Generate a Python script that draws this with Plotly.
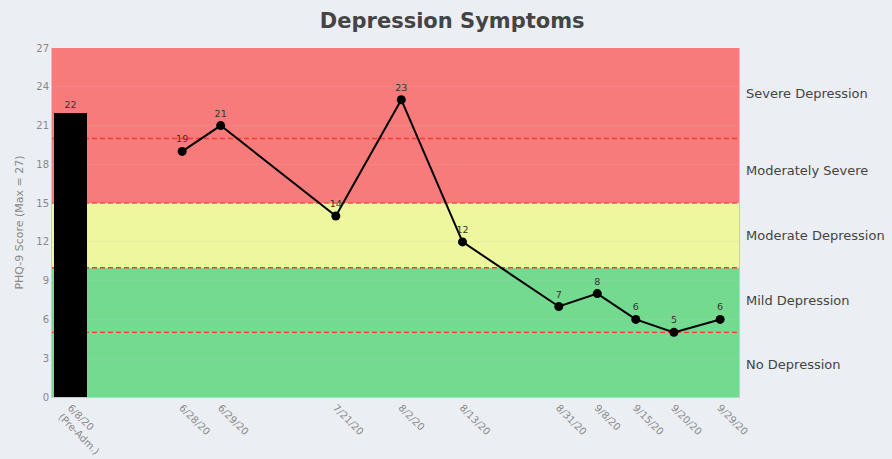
import plotly.graph_objects as go

# PHQ-9 scores: baseline (pre-admission) bar plus follow-up visits
baseline_label = "6/8/20<br>(Pre-Adm.)"
baseline_score = 22
baseline_pos = 0.48

visit_labels = ["6/28/20", "6/29/20", "7/21/20", "8/2/20", "8/13/20",
                "8/31/20", "9/8/20", "9/15/20", "9/20/20", "9/29/20"]
visit_scores = [19, 21, 14, 23, 12, 7, 8, 6, 5, 6]
visit_pos = [3.38, 4.38, 7.37, 9.07, 10.66, 13.16, 14.16, 15.16, 16.15, 17.35]

# severity bands (low, high, colour) and their labels
band_edges = [(0, 10, "rgb(115,218,143)"), (10, 15, "rgb(238,246,158)"),
              (15, 27, "rgb(247,123,123)")]
cutoffs = [5, 10, 15, 20]
severity_names = ["No Depression", "Mild Depression", "Moderate Depression",
                  "Moderately Severe", "Severe Depression"]
severity_mid = [2.5, 7.5, 12.5, 17.5, 23.5]

bg = "rgb(235,238,243)"
FONT = "DejaVu Sans, Verdana, sans-serif"
label_font = dict(family=FONT, size=9.5, color="#333")

fig = go.Figure()
fig.add_trace(go.Bar(
    x=[baseline_pos], y=[baseline_score], width=0.88,
    marker=dict(color="black", line=dict(width=0)),
    text=[str(baseline_score)], textposition="outside",
    textfont=label_font, cliponaxis=False, showlegend=False,
))
fig.add_trace(go.Scatter(
    x=visit_pos, y=visit_scores, mode="lines+markers+text",
    line=dict(color="black", width=2),
    marker=dict(color="black", size=9),
    text=[str(v) for v in visit_scores], textposition="top center",
    textfont=label_font, cliponaxis=False, showlegend=False,
))

for lo, hi, col in band_edges:
    fig.add_shape(type="rect", xref="paper", yref="y", x0=0, x1=1, y0=lo, y1=hi,
                  fillcolor=col, line=dict(width=0), layer="below")
for c in cutoffs:
    fig.add_shape(type="line", xref="paper", yref="y", x0=0, x1=1, y0=c, y1=c,
                  line=dict(color="rgb(245,60,45)", width=1.3, dash="5px,3px"),
                  layer="below")

for name, mid in zip(severity_names, severity_mid):
    fig.add_annotation(xref="paper", yref="y", x=1.007, y=mid, text=name,
                       showarrow=False, xanchor="left", yanchor="middle",
                       font=dict(family=FONT, size=13, color="#444"))

fig.update_layout(
    width=892, height=459,
    paper_bgcolor=bg, plot_bgcolor=bg,
    margin=dict(l=52, r=153, t=48, b=62, autoexpand=False),
    title=dict(text="<b>Depression Symptoms</b>", x=0.507, xanchor="center",
               y=0.955, yanchor="middle",
               font=dict(family=FONT, size=21, color="#444")),
    xaxis=dict(range=[0, 17.84], tickmode="array",
               tickvals=[baseline_pos] + visit_pos,
               ticktext=[baseline_label] + visit_labels,
               tickangle=45, showgrid=False, zeroline=False, automargin=False,
               showline=True, linecolor="#c8c8c8", linewidth=1, ticks="",
               tickfont=dict(family=FONT, size=10, color="#888")),
    yaxis=dict(range=[0, 27], tickmode="array", tickvals=list(range(0, 28, 3)),
               showgrid=True, gridcolor="rgba(200,200,200,0.18)",
               zeroline=False, showline=True, mirror=True, automargin=False,
               linecolor="#c8c8c8", linewidth=1, ticks="",
               title=dict(text="PHQ-9 Score (Max = 27)", standoff=10,
                          font=dict(family=FONT, size=11, color="#888")),
               tickfont=dict(family=FONT, size=10, color="#888")),
    bargap=0,
)

fig.write_html("out.html")
